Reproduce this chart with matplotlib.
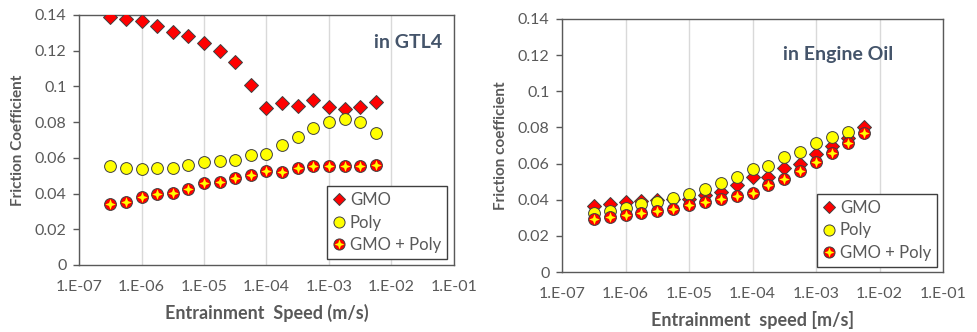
import numpy as np
import matplotlib
matplotlib.use("Agg")
import matplotlib.pyplot as plt
from matplotlib.path import Path
from matplotlib.lines import Line2D
from matplotlib.legend_handler import HandlerTuple
from matplotlib.ticker import FixedLocator, FixedFormatter

plt.rcParams['font.family'] = ['Lato', 'DejaVu Sans']

# ---- data ----
log_speed = [-6.5, -6.25, -6.0, -5.75, -5.5, -5.25, -5.0, -4.75, -4.5, -4.25,
             -4.0, -3.75, -3.5, -3.25, -3.0, -2.75, -2.5, -2.25]
speed = [10 ** v for v in log_speed]

gtl_gmo = [0.1387, 0.1376, 0.1365, 0.1340, 0.1307, 0.1282, 0.1245, 0.1198, 0.1135,
           0.1008, 0.0877, 0.0909, 0.0892, 0.0924, 0.0883, 0.0872, 0.0883, 0.0915]
gtl_poly = [0.0554, 0.0545, 0.0538, 0.0545, 0.0545, 0.0562, 0.0575, 0.0581, 0.0586,
            0.0618, 0.0620, 0.0670, 0.0717, 0.0765, 0.0801, 0.0816, 0.0801, 0.0739]
gtl_mix = [0.0343, 0.0355, 0.0381, 0.0398, 0.0405, 0.0427, 0.0459, 0.0465, 0.0485,
           0.0504, 0.0526, 0.0523, 0.0545, 0.0554, 0.0554, 0.0554, 0.0554, 0.0560]

eo_gmo = [0.0363, 0.0375, 0.0385, 0.0394, 0.0401, 0.0403, 0.0405, 0.0425, 0.0444,
          0.0483, 0.0526, 0.0527, 0.0576, 0.0598, 0.0655, 0.0695, 0.0742, 0.0802]
eo_poly = [0.0327, 0.0338, 0.0355, 0.0375, 0.0388, 0.0407, 0.0429, 0.0459, 0.0490,
           0.0527, 0.0568, 0.0588, 0.0634, 0.0666, 0.0714, 0.0749, 0.0773]
eo_mix = [0.0292, 0.0302, 0.0314, 0.0327, 0.0338, 0.0351, 0.0372, 0.0385, 0.0405,
          0.0423, 0.0435, 0.0479, 0.0512, 0.0558, 0.0607, 0.0660, 0.0716, 0.0771]

xticks = [1e-7, 1e-6, 1e-5, 1e-4, 1e-3, 1e-2, 1e-1]
xticklabels = ["1.E-07", "1.E-06", "1.E-05", "1.E-04", "1.E-03", "1.E-02", "1.E-01"]
yticks = [0, 0.02, 0.04, 0.06, 0.08, 0.1, 0.12, 0.14]
yticklabels = ["0", "0.02", "0.04", "0.06", "0.08", "0.1", "0.12", "0.14"]
labels = ["GMO", "Poly", "GMO + Poly"]

# ---- style ----
RED = "#ff0000"
YEL = "#ffff00"
EDGE = "#3f3f3f"
GRAY = "#595959"
TITLE = "#44546A"

# 4-point star path for the combined marker
r_in = 0.4
star_verts = []
for k in range(8):
    ang = np.pi / 2 + k * np.pi / 4
    r = 1.0 if k % 2 == 0 else r_in
    star_verts.append((r * np.cos(ang), r * np.sin(ang)))
star_verts.append(star_verts[0])
star = Path(star_verts, [Path.MOVETO] + [Path.LINETO] * 7 + [Path.CLOSEPOLY])

W, H = 978, 332
fig = plt.figure(figsize=(W / 100, H / 100), dpi=100)


def make_ax(rect_px):
    x0, y0, x1, y1 = rect_px
    return fig.add_axes([x0 / W, 1 - y1 / H, (x1 - x0) / W, (y1 - y0) / H])


def style(ax, xlabel, ylabel, title, title_xy):
    ax.set_xscale("log")
    ax.set_xlim(1e-7, 1e-1)
    ax.set_ylim(0, 0.14)
    ax.xaxis.set_major_locator(FixedLocator(xticks))
    ax.xaxis.set_major_formatter(FixedFormatter(xticklabels))
    ax.xaxis.set_minor_locator(FixedLocator([]))
    ax.set_yticks(yticks)
    ax.set_yticklabels(yticklabels)
    ax.grid(axis="x", color="#d9d9d9", lw=1.0)
    ax.set_axisbelow(True)
    for s in ax.spines.values():
        s.set_color(GRAY)
        s.set_linewidth(1.0)
    ax.tick_params(axis="x", length=0, pad=11, labelsize=11.5, labelcolor=GRAY)
    ax.tick_params(axis="y", length=4, width=1.0, color=GRAY, pad=5,
                   labelsize=11.5, labelcolor=GRAY)
    ax.set_xlabel(xlabel, fontsize=13, fontweight="bold", color=GRAY, labelpad=7)
    ax.set_ylabel(ylabel, fontsize=11, fontweight="bold", color=GRAY, labelpad=7)
    ax.text(title_xy[0], title_xy[1], title, transform=ax.transAxes,
            fontsize=14, fontweight="bold", color=TITLE, ha="center", va="center")


def plot_panel(ax, gmo, poly, mix):
    ax.plot(speed[:len(gmo)], gmo, ls="none", marker="D", ms=7, mfc=RED,
            mec=EDGE, mew=0.7, zorder=3)
    ax.plot(speed[:len(poly)], poly, ls="none", marker="o", ms=8.5, mfc=YEL,
            mec=EDGE, mew=0.7, zorder=4)
    ax.plot(speed[:len(mix)], mix, ls="none", marker="o", ms=8.5, mfc=RED,
            mec=EDGE, mew=0.7, zorder=5)
    ax.plot(speed[:len(mix)], mix, ls="none", marker=star, ms=7.5, mfc=YEL,
            mec="none", zorder=6)


def legend(ax, anchor):
    h1 = Line2D([], [], ls="none", marker="D", ms=6, mfc=RED, mec=EDGE, mew=0.7)
    h2 = Line2D([], [], ls="none", marker="o", ms=8, mfc=YEL, mec=EDGE, mew=0.7)
    h3a = Line2D([], [], ls="none", marker="o", ms=8, mfc=RED, mec=EDGE, mew=0.7)
    h3b = Line2D([], [], ls="none", marker=star, ms=7, mfc=YEL, mec="none")
    leg = ax.legend([h1, h2, (h3a, h3b)], labels, loc="lower right",
                    bbox_to_anchor=anchor, borderaxespad=0, fontsize=12,
                    labelcolor=GRAY, frameon=True, fancybox=False,
                    handlelength=0.7, handletextpad=0.3, labelspacing=0.4,
                    borderpad=0.35, framealpha=1,
                    handler_map={tuple: HandlerTuple(ndivide=1, pad=0)})
    leg.get_frame().set_edgecolor("#3f3f3f")
    leg.get_frame().set_linewidth(1.0)


ax1 = make_ax((79, 15, 454, 265))
plot_panel(ax1, gtl_gmo, gtl_poly, gtl_mix)
style(ax1, "Entrainment  Speed (m/s)", "Friction Coefficient", "in GTL4",
      (0.877, 0.89))
legend(ax1, (0.981, 0.024))

ax2 = make_ax((562, 19, 943, 272))
plot_panel(ax2, eo_gmo, eo_poly, eo_mix)
style(ax2, "Entrainment  speed [m/s]", "Friction coefficient", "in Engine Oil",
      (0.725, 0.86))
legend(ax2, (0.984, 0.02))

fig.savefig("out.png", dpi=100)
